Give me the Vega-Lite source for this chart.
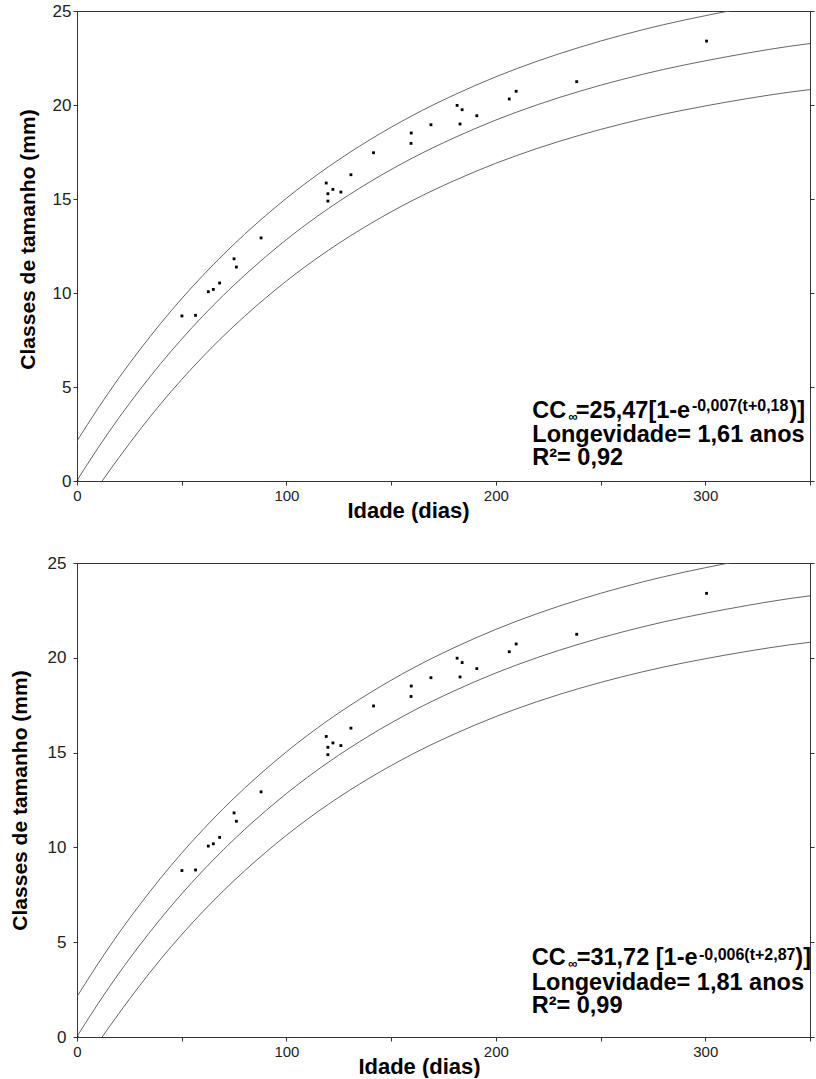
{
  "$schema": "https://vega.github.io/schema/vega-lite/v6.json",
  "padding": {"left": 8, "top": 1, "right": 0, "bottom": 0},
  "spacing": 31,
  "config": {
    "font": "Liberation Sans",
    "view": {"stroke": "#333", "strokeWidth": 1},
    "axis": {"grid": false, "domainColor": "#333", "tickColor": "#333", "labelColor": "#222", "labelFont": "Liberation Sans", "titleFont": "Liberation Sans", "titleFontWeight": "bold", "titleColor": "#000", "tickSize": 4}
  },
  "datasets": {
    "curvas": [
      {"curva": "superior", "t": 0, "v": 2.13}, {"curva": "superior", "t": 10, "v": 3.86}, {"curva": "superior", "t": 20, "v": 5.48}, {"curva": "superior", "t": 30, "v": 6.98}, {"curva": "superior", "t": 40, "v": 8.39}, {"curva": "superior", "t": 50, "v": 9.70}, {"curva": "superior", "t": 60, "v": 10.92}, {"curva": "superior", "t": 70, "v": 12.06}, {"curva": "superior", "t": 80, "v": 13.12}, {"curva": "superior", "t": 90, "v": 14.11}, {"curva": "superior", "t": 100, "v": 15.04}, {"curva": "superior", "t": 120, "v": 16.71}, {"curva": "superior", "t": 140, "v": 18.16}, {"curva": "superior", "t": 160, "v": 19.43}, {"curva": "superior", "t": 180, "v": 20.53}, {"curva": "superior", "t": 200, "v": 21.50}, {"curva": "superior", "t": 220, "v": 22.34}, {"curva": "superior", "t": 240, "v": 23.07}, {"curva": "superior", "t": 260, "v": 23.71}, {"curva": "superior", "t": 280, "v": 24.27}, {"curva": "superior", "t": 300, "v": 24.75}, {"curva": "superior", "t": 320, "v": 25.18}, {"curva": "superior", "t": 340, "v": 25.56}, {"curva": "superior", "t": 350, "v": 25.72},
      {"curva": "media", "t": 0, "v": 0.03}, {"curva": "media", "t": 10, "v": 1.75}, {"curva": "media", "t": 20, "v": 3.36}, {"curva": "media", "t": 30, "v": 4.85}, {"curva": "media", "t": 40, "v": 6.25}, {"curva": "media", "t": 50, "v": 7.55}, {"curva": "media", "t": 60, "v": 8.76}, {"curva": "media", "t": 70, "v": 9.89}, {"curva": "media", "t": 80, "v": 10.94}, {"curva": "media", "t": 90, "v": 11.92}, {"curva": "media", "t": 100, "v": 12.84}, {"curva": "media", "t": 120, "v": 14.49}, {"curva": "media", "t": 140, "v": 15.92}, {"curva": "media", "t": 160, "v": 17.17}, {"curva": "media", "t": 180, "v": 18.25}, {"curva": "media", "t": 200, "v": 19.20}, {"curva": "media", "t": 220, "v": 20.02}, {"curva": "media", "t": 240, "v": 20.73}, {"curva": "media", "t": 260, "v": 21.35}, {"curva": "media", "t": 280, "v": 21.89}, {"curva": "media", "t": 300, "v": 22.35}, {"curva": "media", "t": 320, "v": 22.76}, {"curva": "media", "t": 340, "v": 23.12}, {"curva": "media", "t": 350, "v": 23.27},
      {"curva": "inferior", "t": 12, "v": 0}, {"curva": "inferior", "t": 20, "v": 1.24}, {"curva": "inferior", "t": 30, "v": 2.72}, {"curva": "inferior", "t": 40, "v": 4.11}, {"curva": "inferior", "t": 50, "v": 5.40}, {"curva": "inferior", "t": 60, "v": 6.60}, {"curva": "inferior", "t": 70, "v": 7.72}, {"curva": "inferior", "t": 80, "v": 8.76}, {"curva": "inferior", "t": 90, "v": 9.73}, {"curva": "inferior", "t": 100, "v": 10.64}, {"curva": "inferior", "t": 120, "v": 12.27}, {"curva": "inferior", "t": 140, "v": 13.68}, {"curva": "inferior", "t": 160, "v": 14.91}, {"curva": "inferior", "t": 180, "v": 15.97}, {"curva": "inferior", "t": 200, "v": 16.90}, {"curva": "inferior", "t": 220, "v": 17.70}, {"curva": "inferior", "t": 240, "v": 18.39}, {"curva": "inferior", "t": 260, "v": 18.99}, {"curva": "inferior", "t": 280, "v": 19.51}, {"curva": "inferior", "t": 300, "v": 19.95}, {"curva": "inferior", "t": 320, "v": 20.34}, {"curva": "inferior", "t": 340, "v": 20.68}, {"curva": "inferior", "t": 350, "v": 20.82}
    ],
    "pontos": [
      {"t": 0, "v": 0}, {"t": 50.1, "v": 8.78}, {"t": 56.6, "v": 8.81}, {"t": 62.7, "v": 10.07}, {"t": 65.1, "v": 10.19}, {"t": 68.1, "v": 10.53}, {"t": 75.0, "v": 11.82}, {"t": 76.1, "v": 11.38}, {"t": 87.9, "v": 12.93}, {"t": 119.0, "v": 15.85}, {"t": 122.2, "v": 15.51}, {"t": 119.8, "v": 15.28}, {"t": 126.0, "v": 15.37}, {"t": 119.8, "v": 14.89}, {"t": 130.8, "v": 16.29}, {"t": 141.6, "v": 17.46}, {"t": 159.5, "v": 17.96}, {"t": 159.6, "v": 18.51}, {"t": 169.0, "v": 18.95}, {"t": 181.5, "v": 19.98}, {"t": 183.9, "v": 19.75}, {"t": 182.9, "v": 18.99}, {"t": 190.9, "v": 19.43}, {"t": 206.4, "v": 20.32}, {"t": 209.7, "v": 20.73}, {"t": 238.6, "v": 21.24}, {"t": 300.6, "v": 23.40}
    ],
    "ann_sup": [
      {"tipo": "main", "t": 217.4, "v": 3.35, "txt": "CC"},
      {"tipo": "inf", "t": 234.6, "v": 3.19, "txt": "∞"},
      {"tipo": "main", "t": 238.2, "v": 3.35, "txt": "=25,47[1-e"},
      {"tipo": "exp", "t": 293.6, "v": 3.70, "txt": "-0,007(t+0,18"},
      {"tipo": "main", "t": 340.2, "v": 3.35, "txt": ")]"},
      {"tipo": "main", "t": 217.4, "v": 2.05, "txt": "Longevidade= 1,61 anos"},
      {"tipo": "main", "t": 217.4, "v": 0.86, "txt": "R²= 0,92"}
    ],
    "ann_inf": [
      {"tipo": "main", "t": 217.1, "v": 3.80, "txt": "CC"},
      {"tipo": "inf", "t": 234.5, "v": 3.64, "txt": "∞"},
      {"tipo": "main", "t": 238.6, "v": 3.80, "txt": "=31,72 [1-e"},
      {"tipo": "exp", "t": 297.0, "v": 4.05, "txt": "-0,006(t+2,87"},
      {"tipo": "main", "t": 343.0, "v": 3.80, "txt": ")]"},
      {"tipo": "main", "t": 217.1, "v": 2.46, "txt": "Longevidade= 1,81 anos"},
      {"tipo": "main", "t": 217.1, "v": 1.24, "txt": "R²= 0,99"}
    ]
  },
  "vconcat": [
    {
      "width": 733,
      "height": 470,
      "resolve": {"axis": {"y": "independent"}},
      "layer": [
        {
          "data": {"name": "curvas"},
          "mark": {"type": "line", "color": "#555", "strokeWidth": 0.9, "interpolate": "monotone", "clip": true},
          "encoding": {
            "x": {"field": "t", "type": "quantitative", "scale": {"domain": [0, 350], "nice": false},
                  "axis": {"values": [0, 50, 100, 150, 200, 250, 300, 350], "labelExpr": "datum.value % 100 === 0 ? datum.label : ''", "labelFlush": false, "title": "Idade (dias)", "titleFontSize": 22, "labelFontSize": 15, "labelPadding": 3, "titlePadding": -3, "titleX": 331}},
            "y": {"field": "v", "type": "quantitative", "scale": {"domain": [0, 25], "nice": false},
                  "axis": {"values": [0, 5, 10, 15, 20, 25], "title": "Classes de tamanho (mm)", "titleFontSize": 21, "labelFontSize": 17, "labelPadding": 2, "titlePadding": 14, "titleY": 228}},
            "detail": {"field": "curva"}
          }
        },
        {
          "data": {"name": "pontos"},
          "mark": {"type": "square", "size": 8, "color": "#000", "opacity": 1, "filled": true, "clip": true},
          "encoding": {
            "x": {"field": "t", "type": "quantitative"},
            "y": {"field": "v", "type": "quantitative", "axis": {"orient": "right", "values": [0, 5, 10, 15, 20, 25], "labels": false, "domain": false, "title": null}}
          }
        },
        {
          "data": {"name": "ann_sup"},
          "transform": [{"filter": "datum.tipo === 'main'"}],
          "mark": {"type": "text", "align": "left", "baseline": "alphabetic", "fontSize": 23.5, "fontWeight": "bold", "color": "#000"},
          "encoding": {"x": {"field": "t", "type": "quantitative"}, "y": {"field": "v", "type": "quantitative", "axis": null}, "text": {"field": "txt"}}
        },
        {
          "data": {"name": "ann_sup"},
          "transform": [{"filter": "datum.tipo === 'exp'"}],
          "mark": {"type": "text", "align": "left", "baseline": "alphabetic", "fontSize": 16, "fontWeight": "bold", "color": "#000"},
          "encoding": {"x": {"field": "t", "type": "quantitative"}, "y": {"field": "v", "type": "quantitative", "axis": null}, "text": {"field": "txt"}}
        },
        {
          "data": {"name": "ann_sup"},
          "transform": [{"filter": "datum.tipo === 'inf'"}],
          "mark": {"type": "text", "align": "left", "baseline": "alphabetic", "fontSize": 13, "fontWeight": "bold", "color": "#000"},
          "encoding": {"x": {"field": "t", "type": "quantitative"}, "y": {"field": "v", "type": "quantitative", "axis": null}, "text": {"field": "txt"}}
        }
      ]
    },
    {
      "width": 733,
      "height": 474,
      "resolve": {"axis": {"y": "independent"}},
      "layer": [
        {
          "data": {"name": "curvas"},
          "mark": {"type": "line", "color": "#555", "strokeWidth": 0.9, "interpolate": "monotone", "clip": true},
          "encoding": {
            "x": {"field": "t", "type": "quantitative", "scale": {"domain": [0, 350], "nice": false},
                  "axis": {"values": [0, 50, 100, 150, 200, 250, 300, 350], "labelExpr": "datum.value % 100 === 0 ? datum.label : ''", "labelFlush": false, "title": "Idade (dias)", "titleFontSize": 22, "labelFontSize": 15, "labelPadding": 3, "titlePadding": -3, "titleX": 342}},
            "y": {"field": "v", "type": "quantitative", "scale": {"domain": [0, 25], "nice": false},
                  "axis": {"values": [0, 5, 10, 15, 20, 25], "title": "Classes de tamanho (mm)", "titleFontSize": 21, "labelFontSize": 17, "labelPadding": 7, "titlePadding": 17}},
            "detail": {"field": "curva"}
          }
        },
        {
          "data": {"name": "pontos"},
          "mark": {"type": "square", "size": 8, "color": "#000", "opacity": 1, "filled": true, "clip": true},
          "encoding": {
            "x": {"field": "t", "type": "quantitative"},
            "y": {"field": "v", "type": "quantitative", "axis": {"orient": "right", "values": [0, 5, 10, 15, 20, 25], "labels": false, "domain": false, "title": null}}
          }
        },
        {
          "data": {"name": "ann_inf"},
          "transform": [{"filter": "datum.tipo === 'main'"}],
          "mark": {"type": "text", "align": "left", "baseline": "alphabetic", "fontSize": 23.5, "fontWeight": "bold", "color": "#000"},
          "encoding": {"x": {"field": "t", "type": "quantitative"}, "y": {"field": "v", "type": "quantitative", "axis": null}, "text": {"field": "txt"}}
        },
        {
          "data": {"name": "ann_inf"},
          "transform": [{"filter": "datum.tipo === 'exp'"}],
          "mark": {"type": "text", "align": "left", "baseline": "alphabetic", "fontSize": 16, "fontWeight": "bold", "color": "#000"},
          "encoding": {"x": {"field": "t", "type": "quantitative"}, "y": {"field": "v", "type": "quantitative", "axis": null}, "text": {"field": "txt"}}
        },
        {
          "data": {"name": "ann_inf"},
          "transform": [{"filter": "datum.tipo === 'inf'"}],
          "mark": {"type": "text", "align": "left", "baseline": "alphabetic", "fontSize": 13, "fontWeight": "bold", "color": "#000"},
          "encoding": {"x": {"field": "t", "type": "quantitative"}, "y": {"field": "v", "type": "quantitative", "axis": null}, "text": {"field": "txt"}}
        }
      ]
    }
  ]
}
